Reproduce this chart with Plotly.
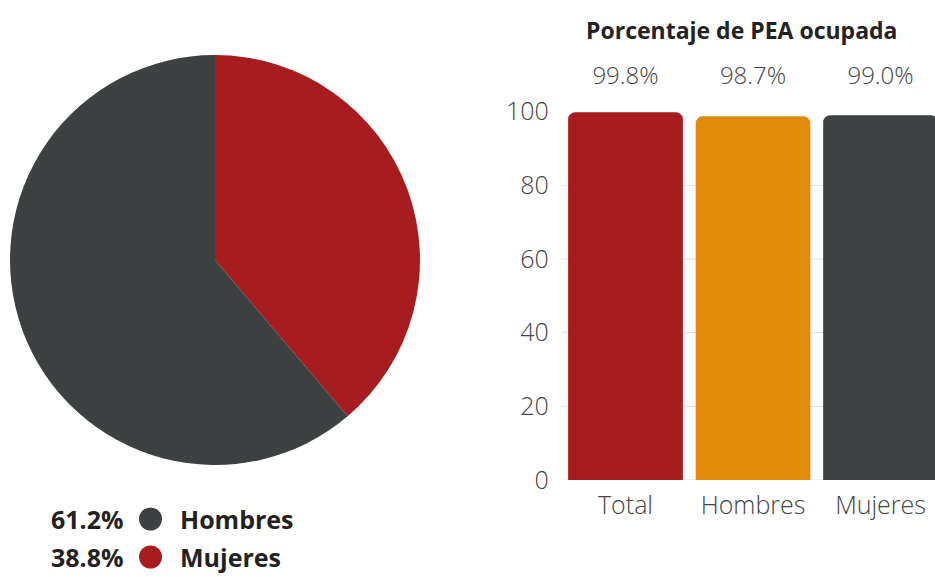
import plotly.graph_objects as go

W, H = 935, 577

# Data
pie_labels = ["Mujeres", "Hombres"]
pie_values = [38.8, 61.2]
pie_colors = ["#a61c1f", "#3e4141"]

legend_labels = ["Hombres", "Mujeres"]
legend_values = ["61.2%", "38.8%"]
legend_colors = ["#3e4141", "#a61c1f"]

bar_cats = ["Total", "Hombres", "Mujeres"]
bar_values = [99.8, 98.7, 99.0]
bar_text = ["99.8%", "98.7%", "99.0%"]
bar_colors = ["#a61c1f", "#e08b0c", "#3e4242"]
y_ticks = [0, 20, 40, 60, 80, 100]
grid_values = [0, 20, 40, 60, 80]

FONT = "Open Sans"

def px(x):
    return x / W

def py(y):
    return 1 - y / H

fig = go.Figure()

fig.add_trace(go.Pie(
    labels=pie_labels, values=pie_values, sort=False, direction="clockwise",
    rotation=0, marker=dict(colors=pie_colors, line=dict(width=0)),
    textinfo="none", hoverinfo="label+percent", showlegend=False,
    domain=dict(x=[px(10), px(420)], y=[py(465), py(55)]),
))

fig.add_trace(go.Bar(
    x=bar_cats, y=bar_values, marker=dict(color=bar_colors, line=dict(width=0)),
    showlegend=False, xaxis="x", yaxis="y", hoverinfo="x+y",
))

fig.add_trace(go.Scatter(
    x=bar_cats, y=[109] * len(bar_cats), text=bar_text, mode="text",
    textposition="middle center",
    textfont=dict(family=FONT, size=24, color="#444444", weight=300),
    showlegend=False, hoverinfo="skip", cliponaxis=False,
))

annotations = [dict(
    text="<b>Porcentaje de PEA ocupada</b>", x=px(741), y=py(30), xref="paper", yref="paper",
    showarrow=False, font=dict(family=FONT, size=23, color="#222222"),
    xanchor="center", yanchor="middle",
)]
shapes = []
for g in grid_values:
    shapes.append(dict(
        type="line", xref="x domain", yref="y", x0=0, x1=1, y0=g, y1=g,
        line=dict(color="#dcdcdc", width=1), layer="below",
    ))
rows_y = [519, 557]
for lab, val, col, yy in zip(legend_labels, legend_values, legend_colors, rows_y):
    annotations.append(dict(
        text=f"<b>{val}</b>", x=px(126), y=py(yy), xref="paper", yref="paper",
        showarrow=False, xanchor="right", yanchor="middle",
        font=dict(family=FONT, size=25, color="#222222"),
    ))
    annotations.append(dict(
        text=f"<b>{lab}</b>", x=px(178), y=py(yy), xref="paper", yref="paper",
        showarrow=False, xanchor="left", yanchor="middle",
        font=dict(family=FONT, size=25, color="#222222"),
    ))
    shapes.append(dict(
        type="circle", xref="paper", yref="paper",
        x0=px(139), x1=px(162), y0=py(yy + 11.5), y1=py(yy - 11.5),
        fillcolor=col, line=dict(width=0),
    ))

fig.update_layout(
    width=W, height=H,
    margin=dict(l=0, r=0, t=0, b=0, autoexpand=False),
    paper_bgcolor="white", plot_bgcolor="white",
    bargap=0.1, barcornerradius=7,
    xaxis=dict(domain=[px(561.75), 1], range=[-0.5, 2.427], showgrid=False,
               showline=False, zeroline=False, automargin=False,
               tickfont=dict(family=FONT, size=25, color="#444444", weight=300),
               ticklabelstandoff=8),
    yaxis=dict(domain=[py(480), py(60)], range=[0, 114], tickvals=y_ticks,
               showgrid=False, zeroline=False, showline=False, automargin=False,
               tickfont=dict(family=FONT, size=25, color="#444444", weight=300),
               ticklabelstandoff=12),
    annotations=annotations,
    shapes=shapes,
)

fig.write_html(
    "out.html",
    config={"responsive": False, "displayModeBar": False},
    post_script="document.body.style.margin='0';document.body.style.overflow='hidden';",
)
